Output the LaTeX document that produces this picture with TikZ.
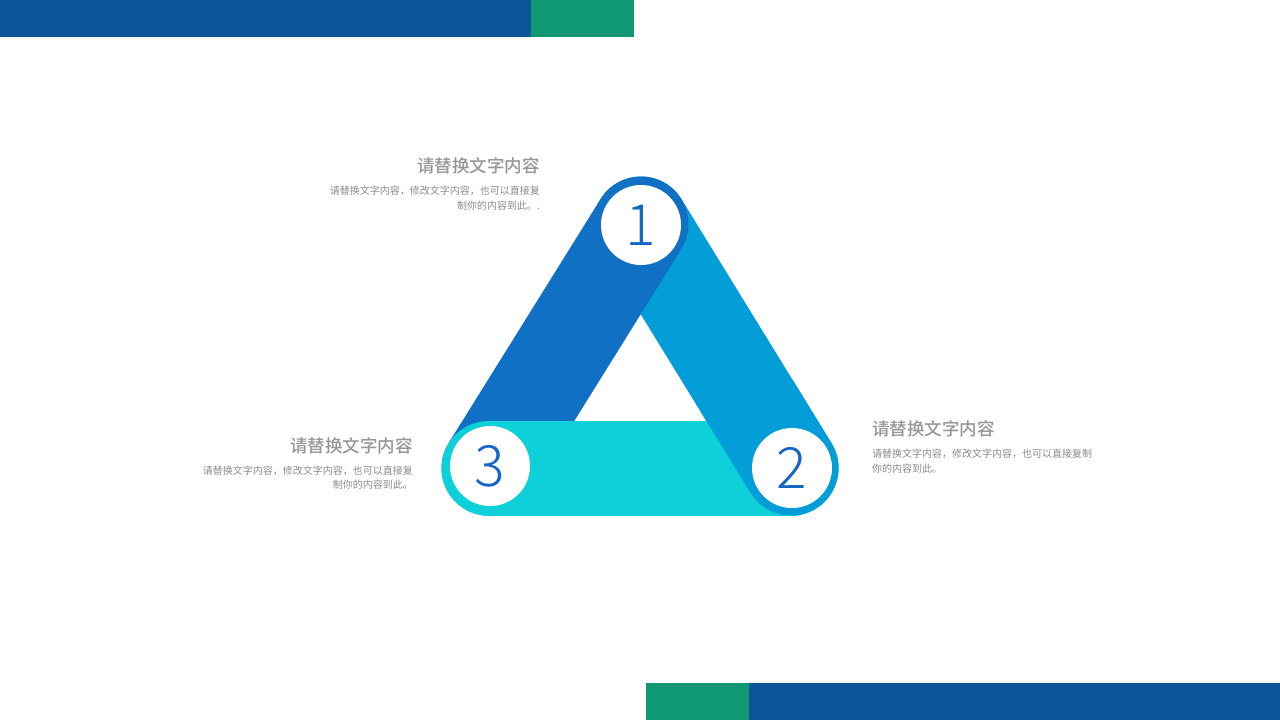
\documentclass[tikz,border=0pt]{standalone}
\usepackage{fontspec}
\newfontfamily\cjk{Noto Sans CJK SC}
\newfontfamily\titlefont{Noto Sans CJK SC}[UprightFont=* Medium]
\newfontfamily\numfont{Noto Sans CJK SC}[UprightFont=* Light]
\definecolor{barblue}{HTML}{0E5498}
\definecolor{bargreen}{HTML}{109874}
\definecolor{bandA}{HTML}{1070C4}
\definecolor{bandB}{HTML}{039ED8}
\definecolor{bandC}{HTML}{0DD0D8}
\definecolor{numblue}{HTML}{1666C5}
\definecolor{titlegray}{HTML}{979595}
\definecolor{bodygray}{HTML}{8A8A8A}
\tikzset{
  band/.style={line width=95pt, line cap=round},
  numcircle/.style={circle, fill=white, minimum size=80pt, inner sep=0pt, text=numblue, font=\numfont\fontsize{57}{57}\selectfont},
  titletext/.style={inner sep=0pt, text=titlegray, font=\titlefont\fontsize{17.5}{20}\selectfont},
  bodytext/.style={inner sep=0pt, text=bodygray, font=\cjk\fontsize{10}{12}\selectfont}
}
\begin{document}
\begin{tikzpicture}[x=1pt,y=-1pt]
\useasboundingbox (0,0) rectangle (1280,720);
\fill[white] (0,0) rectangle (1280,720);
% bars
\fill[barblue] (0,0) rectangle (531,37);
\fill[bargreen] (531,0) rectangle (634,37);
\fill[bargreen] (646,683) rectangle (749,720);
\fill[barblue] (749,683) rectangle (1280,720);
% centers
\coordinate (c1) at (641,224);
\coordinate (c2) at (791,468);
\coordinate (c3) at (489,468);
% bands
\draw[band, bandB] (c1) -- (c2);
\draw[band, bandA] (c1) -- (c3);
\draw[band, bandC] (c3) -- (c2);
\begin{scope}
  \clip (700,380) rectangle (900,570);
  \draw[band, bandB] (c1) -- (c2);
\end{scope}
% number circles
\node[numcircle] (n1) at (641,225) {1};
\node[numcircle] (n2) at (792,468) {2};
\node[numcircle] (n3) at (490,466) {3};
% texts
\node[titletext, anchor=east] (t1) at (540,166) {请替换文字内容};
\node[bodytext, anchor=east] (b1a) at (540,191) {请替换文字内容，修改文字内容，也可以直接复};
\node[bodytext, anchor=east] (b1b) at (540,206) {制你的内容到此。.};
\node[titletext, anchor=east] (t3) at (413,446) {请替换文字内容};
\node[bodytext, anchor=east] (b3a) at (413,471) {请替换文字内容，修改文字内容，也可以直接复};
\node[bodytext, anchor=east] (b3b) at (413,485) {制你的内容到此。};
\node[titletext, anchor=west] (t2) at (872,429) {请替换文字内容};
\node[bodytext, anchor=west] (b2a) at (872,454) {请替换文字内容，修改文字内容，也可以直接复制};
\node[bodytext, anchor=west] (b2b) at (872,469) {你的内容到此。};
\end{tikzpicture}
\end{document}
